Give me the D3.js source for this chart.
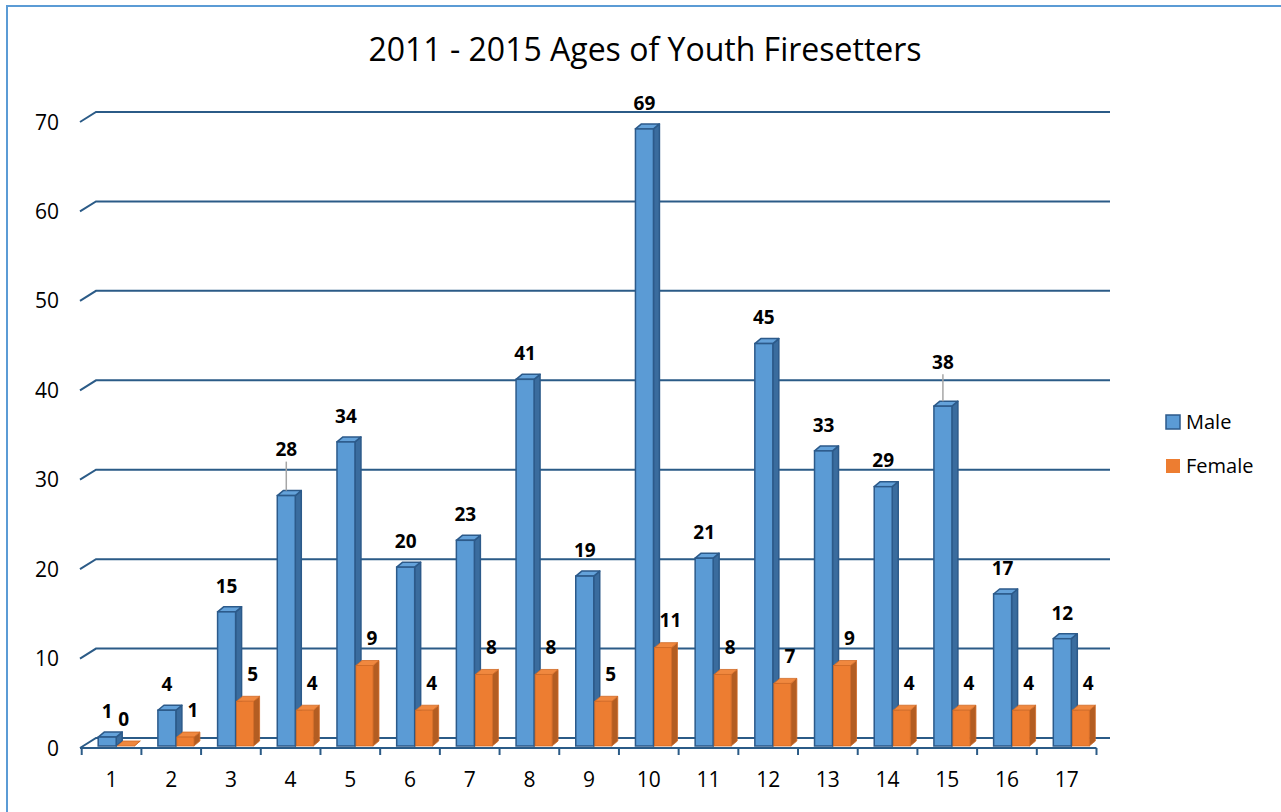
<!DOCTYPE html>
<html>
<head>
<meta charset="utf-8">
<script src="https://cdn.jsdelivr.net/npm/d3@7"></script>
<style>
  body { margin: 0; background: #fff; }
  text { font-family: "Open Sans", sans-serif; }
</style>
</head>
<body>
<div id="container"></div>
<script>
var ages = ['1','2','3','4','5','6','7','8','9','10','11','12','13','14','15','16','17']
var male = [1, 4, 15, 28, 34, 20, 23, 41, 19, 69, 21, 45, 33, 29, 38, 17, 12]
var female = [0, 1, 5, 4, 9, 4, 8, 8, 5, 11, 8, 7, 9, 4, 4, 4, 4]
var yTicks = [0, 10, 20, 30, 40, 50, 60, 70]
var seriesNames = ['Male', 'Female']

var WIDTH = 1281
var HEIGHT = 812

// depth of the wall and of the bars
var wallDx = 16, wallDy = -10
var barDx = 6, barDy = -5

var svg = d3.select('div#container').append('svg')
  .attr('width', WIDTH)
  .attr('height', HEIGHT)

// frame (only left and top edges show)
svg.append('rect')
  .attr('x', 7).attr('y', 6)
  .attr('width', WIDTH + 20).attr('height', HEIGHT + 20)
  .attr('fill', 'none')
  .attr('stroke', '#5b9bd5')
  .attr('stroke-width', 2)

svg.append('text')
  .attr('x', 645).attr('y', 61)
  .attr('text-anchor', 'middle')
  .attr('font-size', 32)
  .attr('fill', '#000')
  .text('2011 - 2015 Ages of Youth Firesetters')

var x = d3.scaleBand().domain(ages).range([81.7, 1096.5])
var yFront = d3.scaleLinear().domain([0, 70]).range([748, 122])
var yBar = d3.scaleLinear().domain([0, 70]).range([746, 120])

var gridColor = '#2b5b87'

// gridlines on the back wall with the left diagonal
yTicks.forEach(function (t) {
  var yf = yFront(t)
  svg.append('path')
    .attr('d', 'M' + 80 + ',' + yf + 'L' + (80 + wallDx) + ',' + (yf + wallDy) + 'L1110,' + (yf + wallDy))
    .attr('fill', 'none')
    .attr('stroke', gridColor)
    .attr('stroke-width', 2)
})

// floor front edge
svg.append('line')
  .attr('x1', 80).attr('x2', x.range()[1])
  .attr('y1', yFront(0)).attr('y2', yFront(0))
  .attr('stroke', gridColor).attr('stroke-width', 2)

// category ticks
var tickXs = ages.map(function (a) { return x(a) }).concat([x.range()[1]])
svg.selectAll('line.tick').data(tickXs).enter().append('line')
  .attr('class', 'tick')
  .attr('x1', function (d) { return d }).attr('x2', function (d) { return d })
  .attr('y1', yFront(0)).attr('y2', yFront(0) + 7)
  .attr('stroke', gridColor).attr('stroke-width', 2)

// y labels
svg.selectAll('text.ylab').data(yTicks).enter().append('text')
  .attr('class', 'ylab')
  .attr('x', 59).attr('y', function (d) { return yFront(d) })
  .attr('dy', '0.36em')
  .attr('text-anchor', 'end')
  .attr('font-size', 21)
  .text(function (d) { return d })

// x labels
svg.selectAll('text.xlab').data(ages).enter().append('text')
  .attr('class', 'xlab')
  .attr('x', function (d) { return x(d) + x.bandwidth() / 2 })
  .attr('y', 779)
  .attr('dy', '0.36em')
  .attr('text-anchor', 'middle')
  .attr('font-size', 21)
  .text(function (d) { return d })

var styles = [
  { front: '#5b9bd5', top: '#64a2da', side: '#3a6c9e', stroke: '#2c5a8a', sw: 1.5, off: 16.5, w: 18 },
  { front: '#ed7d31', top: '#f0883f', side: '#b35d22', stroke: '#d06a26', sw: 0.8, off: 35.5, w: 17 }
]

function drawBar(x0, v, s) {
  var y0 = yBar(0), y1 = yBar(v), x1 = x0 + s.w
  var g = svg.append('g')
  g.append('path')
    .attr('d', 'M' + x1 + ',' + y0 + 'L' + (x1 + barDx) + ',' + (y0 + barDy) + 'L' + (x1 + barDx) + ',' + (y1 + barDy) + 'L' + x1 + ',' + y1 + 'Z')
    .attr('fill', s.side).attr('stroke', s.stroke).attr('stroke-width', s.sw).attr('stroke-linejoin', 'round')
  g.append('path')
    .attr('d', 'M' + x0 + ',' + y1 + 'L' + (x0 + barDx) + ',' + (y1 + barDy) + 'L' + (x1 + barDx) + ',' + (y1 + barDy) + 'L' + x1 + ',' + y1 + 'Z')
    .attr('fill', s.top).attr('stroke', s.stroke).attr('stroke-width', s.sw).attr('stroke-linejoin', 'round')
  g.append('rect')
    .attr('x', x0).attr('y', y1)
    .attr('width', s.w).attr('height', y0 - y1)
    .attr('fill', s.front).attr('stroke', s.stroke).attr('stroke-width', s.sw)
}

// labels moved up by the chart, with leader lines
var maleLabelLift = { '4': 20, '15': 18 }

ages.forEach(function (a, i) {
  var b = x(a)
  drawBar(b + styles[0].off, male[i], styles[0])
  drawBar(b + styles[1].off, female[i], styles[1])
})

ages.forEach(function (a, i) {
  var b = x(a)
  var mx = b + styles[0].off + styles[0].w / 2
  var lift = maleLabelLift[a] || 0
  var my = yBar(male[i]) - 26 - lift
  if (lift) {
    svg.append('line')
      .attr('x1', mx).attr('x2', mx)
      .attr('y1', my + 12).attr('y2', yBar(male[i]) + barDy)
      .attr('stroke', '#a6a6a6').attr('stroke-width', 1.5)
  }
  svg.append('text')
    .attr('x', mx).attr('y', my).attr('dy', '0.36em')
    .attr('text-anchor', 'middle')
    .attr('font-size', 19).attr('font-weight', 'bold')
    .text(male[i])

  var fx = female[i] === 0 ? b + styles[1].off + styles[1].w / 2 - 2 : b + styles[1].off + styles[1].w - 1
  svg.append('text')
    .attr('x', fx).attr('y', yBar(female[i]) - 27).attr('dy', '0.36em')
    .attr('text-anchor', 'middle')
    .attr('font-size', 19).attr('font-weight', 'bold')
    .text(female[i])
})

// legend
var legend = svg.selectAll('g.legend').data(seriesNames).enter().append('g')
  .attr('class', 'legend')
  .attr('transform', function (d, i) { return 'translate(1166,' + (415 + i * 44) + ')' })
legend.append('rect')
  .attr('width', 14).attr('height', 14)
  .attr('fill', function (d, i) { return styles[i].front })
  .attr('stroke', function (d, i) { return i === 0 ? styles[0].stroke : 'none' })
  .attr('stroke-width', 1.5)
legend.append('text')
  .attr('x', 20).attr('y', 7).attr('dy', '0.36em')
  .attr('font-size', 20)
  .text(function (d) { return d })
</script>
</body>
</html>
